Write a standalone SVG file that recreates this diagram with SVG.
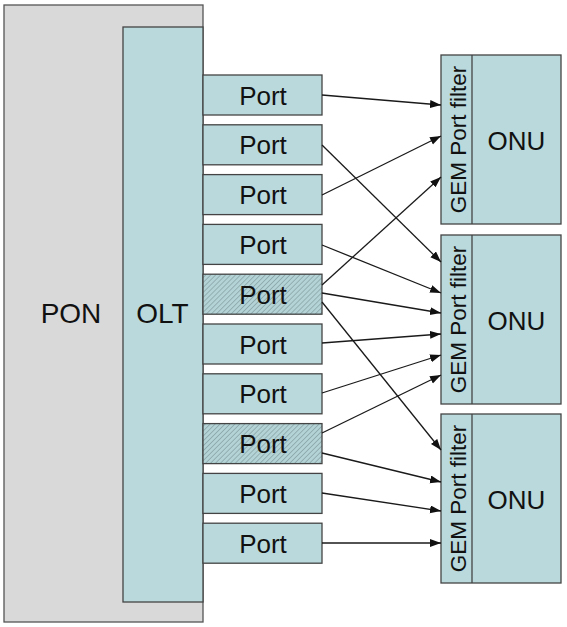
<svg xmlns="http://www.w3.org/2000/svg" width="567" height="627" viewBox="0 0 567 627">
<style>
.pon{fill:#d9d9d9;stroke:#555;stroke-width:1.3}
.box{fill:#b9d9dc;stroke:#444;stroke-width:1.3}
.hatch{fill:url(#hatch);stroke:#444;stroke-width:1.3}
.t{font-family:"Liberation Sans",Arial,sans-serif;fill:#111;text-anchor:middle}
.big{font-size:28px}
.mid{font-size:26px}
.gem{font-size:22.5px}
.conn line{stroke:#1a1a1a;stroke-width:1.3;marker-end:url(#arr)}
</style>
<defs>
<pattern id="hatch" width="3.5" height="3.5" patternUnits="userSpaceOnUse" patternTransform="rotate(45)">
<rect width="3.5" height="3.5" fill="#b3d3d6"/>
<line x1="0" y1="0" x2="0" y2="3.5" stroke="#86a0a3" stroke-width="1.4"/>
</pattern>
<marker id="arr" markerUnits="userSpaceOnUse" markerWidth="12" markerHeight="10" refX="11" refY="4" orient="auto">
<path d="M0,0 L11,4 L0,8 Z" fill="#111"/>
</marker>
</defs>
<g id="pon"><rect class="pon" x="4" y="5" width="199" height="617"/><text class="t big" x="71" y="323">PON</text></g>
<g id="olt"><rect class="box" x="123" y="27" width="80" height="575"/><text class="t big" x="162.5" y="323">OLT</text></g>
<g id="port1"><rect class="box" x="203" y="75" width="119" height="40"/><text class="t mid" x="263" y="104.5">Port</text></g>
<g id="port2"><rect class="box" x="203" y="124.8" width="119" height="40"/><text class="t mid" x="263" y="154.3">Port</text></g>
<g id="port3"><rect class="box" x="203" y="174.6" width="119" height="40"/><text class="t mid" x="263" y="204.1">Port</text></g>
<g id="port4"><rect class="box" x="203" y="224.4" width="119" height="40"/><text class="t mid" x="263" y="253.9">Port</text></g>
<g id="port5"><rect class="hatch" x="203" y="274.2" width="119" height="40"/><text class="t mid" x="263" y="303.7">Port</text></g>
<g id="port6"><rect class="box" x="203" y="324" width="119" height="40"/><text class="t mid" x="263" y="353.5">Port</text></g>
<g id="port7"><rect class="box" x="203" y="373.8" width="119" height="40"/><text class="t mid" x="263" y="403.3">Port</text></g>
<g id="port8"><rect class="hatch" x="203" y="423.6" width="119" height="40"/><text class="t mid" x="263" y="453.1">Port</text></g>
<g id="port9"><rect class="box" x="203" y="473.4" width="119" height="40"/><text class="t mid" x="263" y="502.9">Port</text></g>
<g id="port10"><rect class="box" x="203" y="523.2" width="119" height="40"/><text class="t mid" x="263" y="552.7">Port</text></g>
<g id="onu1"><rect class="box" x="441" y="55" width="120" height="169"/><line x1="472" y1="55" x2="472" y2="224" stroke="#444" stroke-width="1.3"/><text class="t gem" transform="translate(466,139.5) rotate(-90)">GEM Port filter</text><text class="t mid" x="516.5" y="149.5">ONU</text></g>
<g id="onu2"><rect class="box" x="441" y="235" width="120" height="169"/><line x1="472" y1="235" x2="472" y2="404" stroke="#444" stroke-width="1.3"/><text class="t gem" transform="translate(466,319.5) rotate(-90)">GEM Port filter</text><text class="t mid" x="516.5" y="329.5">ONU</text></g>
<g id="onu3"><rect class="box" x="441" y="414" width="120" height="169"/><line x1="472" y1="414" x2="472" y2="583" stroke="#444" stroke-width="1.3"/><text class="t gem" transform="translate(466,498.5) rotate(-90)">GEM Port filter</text><text class="t mid" x="516.5" y="508.5">ONU</text></g>
<g id="connectors" class="conn">
<line x1="322" y1="95" x2="441" y2="105"/>
<line x1="322" y1="145" x2="441" y2="262"/>
<line x1="322" y1="195" x2="441" y2="136"/>
<line x1="322" y1="245" x2="441" y2="293"/>
<line x1="322" y1="285" x2="441" y2="177"/>
<line x1="322" y1="293" x2="441" y2="313"/>
<line x1="322" y1="302" x2="441" y2="450"/>
<line x1="322" y1="343" x2="441" y2="334"/>
<line x1="322" y1="393" x2="441" y2="355"/>
<line x1="322" y1="433" x2="441" y2="375"/>
<line x1="322" y1="453" x2="441" y2="482"/>
<line x1="322" y1="493" x2="441" y2="511"/>
<line x1="322" y1="543" x2="441" y2="543"/>
</g>
</svg>
